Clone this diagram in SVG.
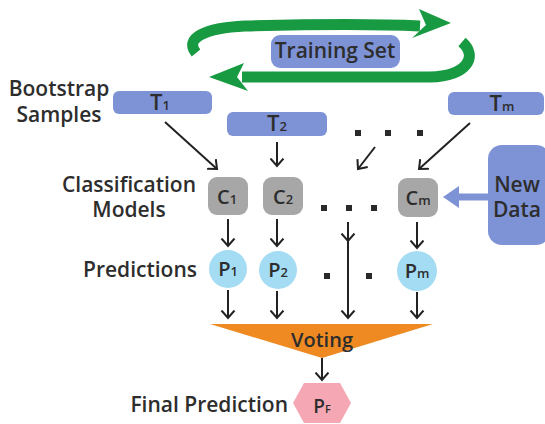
<svg xmlns="http://www.w3.org/2000/svg" width="545" height="424" viewBox="0 0 545 424">
  <defs>
    <marker id="vee" markerUnits="userSpaceOnUse" markerWidth="16" markerHeight="16" viewBox="-8 -8 16 16" refX="0" refY="0" orient="auto">
      <path d="M-7.5,-6.5 L0,0 L-7.5,6.5" fill="none" stroke="#222" stroke-width="2"/>
    </marker>
    <style>
      text { font-family: "Open Sans", "Liberation Sans", sans-serif; fill: #2d2d2d; font-weight: 600; }
      .lbl { font-size: 21px; }
      .box { fill: #7e93d6; }
      .cls { fill: #a7a7a7; }
      .pred { fill: #a4dcf4; }
      .conn { stroke: #222; stroke-width: 2; fill: none; marker-end: url(#vee); }
      .dot { fill: #2a2a2a; }
      .green { stroke: #189a42; stroke-width: 11; fill: none; }
      .sub { font-size: 13px; }
    </style>
  </defs>
  <rect width="545" height="424" fill="#ffffff"/>

  <!-- circular training-set arrows -->
  <g id="cycle">
    <path class="green" d="M196,53 C184,38 205,28 245,26 C320,24 380,24 420,26"/>
    <polygon fill="#189a42" points="451,23 419,9 426,25 412,38"/>
    <path class="green" d="M462,42 C478,56 468,76 430,77 L242,77"/>
    <polygon fill="#189a42" points="209,77 244,63 237,77 248,91"/>
  </g>

  <g id="training-set">
    <rect class="box" x="271" y="35" width="129" height="33" rx="9"/>
    <text x="335" y="58" text-anchor="middle" font-size="21">Training Set</text>
  </g>

  <!-- row labels -->
  <g id="labels">
    <text class="lbl" x="59" y="96" text-anchor="middle">Bootstrap</text>
    <text class="lbl" x="59" y="122" text-anchor="middle">Samples</text>
    <text class="lbl" x="129" y="192" text-anchor="middle">Classification</text>
    <text class="lbl" x="129" y="217" text-anchor="middle">Models</text>
    <text class="lbl" x="197" y="277" text-anchor="end">Predictions</text>
    <text class="lbl" x="288" y="412" text-anchor="end">Final Prediction</text>
  </g>

  <!-- bootstrap samples -->
  <g id="t1">
    <rect class="box" x="113" y="91" width="99" height="23" rx="6"/>
    <text x="160" y="110" text-anchor="middle" font-size="22">T<tspan class="sub">1</tspan></text>
  </g>
  <g id="t2">
    <rect class="box" x="227" y="112" width="100" height="24" rx="6"/>
    <text x="277" y="131" text-anchor="middle" font-size="22">T<tspan class="sub">2</tspan></text>
  </g>
  <g id="tm">
    <rect class="box" x="448" y="92" width="96" height="23" rx="6"/>
    <text x="502" y="111" text-anchor="middle" font-size="22">T<tspan class="sub">m</tspan></text>
  </g>
  <g id="t-dots">
    <rect class="dot" x="355" y="130" width="6" height="6"/>
    <rect class="dot" x="385" y="130" width="6" height="6"/>
    <rect class="dot" x="417" y="130" width="6" height="6"/>
  </g>

  <!-- classification models -->
  <g id="c1">
    <rect class="cls" x="208" y="177" width="40" height="38" rx="9"/>
    <text x="227" y="204" text-anchor="middle" font-size="20">C<tspan class="sub">1</tspan></text>
  </g>
  <g id="c2">
    <rect class="cls" x="263" y="177" width="40" height="38" rx="9"/>
    <text x="283" y="204" text-anchor="middle" font-size="20">C<tspan class="sub">2</tspan></text>
  </g>
  <g id="cm">
    <rect class="cls" x="398" y="178" width="40" height="39" rx="9"/>
    <text x="418" y="205" text-anchor="middle" font-size="20">C<tspan class="sub">m</tspan></text>
  </g>
  <g id="c-dots">
    <rect class="dot" x="321" y="205" width="6" height="6"/>
    <rect class="dot" x="346" y="205" width="6" height="6"/>
    <rect class="dot" x="371" y="205" width="6" height="6"/>
  </g>

  <g id="new-data">
    <rect class="box" x="488" y="145" width="62" height="100" rx="14"/>
    <text x="517" y="192" text-anchor="middle" font-size="21">New</text>
    <text x="517" y="217" text-anchor="middle" font-size="21">Data</text>
  </g>

  <!-- predictions -->
  <g id="p1">
    <circle class="pred" cx="228" cy="269" r="19"/>
    <text x="228" y="276" text-anchor="middle" font-size="20">P<tspan class="sub">1</tspan></text>
  </g>
  <g id="p2">
    <circle class="pred" cx="278" cy="270" r="19"/>
    <text x="278" y="277" text-anchor="middle" font-size="20">P<tspan class="sub">2</tspan></text>
  </g>
  <g id="pm">
    <circle class="pred" cx="417" cy="271" r="20"/>
    <text x="417" y="278" text-anchor="middle" font-size="20">P<tspan class="sub">m</tspan></text>
  </g>
  <g id="p-dots">
    <rect class="dot" x="324" y="273" width="6" height="6"/>
    <rect class="dot" x="366" y="273" width="6" height="6"/>
  </g>

  <g id="voting">
    <polygon fill="#ef8a23" points="210,324 433,324 322,358"/>
    <text x="322" y="347" text-anchor="middle" font-size="20">Voting</text>
  </g>

  <g id="final">
    <polygon fill="#f5a8b4" points="293,403 304,383 340,383 351,403 340,423 304,423"/>
    <text x="322" y="413" text-anchor="middle" font-size="19">P<tspan font-size="11">F</tspan></text>
  </g>

  <!-- connectors -->
  <g id="connectors">
    <line class="conn" x1="165" y1="122" x2="217" y2="169"/>
    <line class="conn" x1="277" y1="142" x2="277" y2="166"/>
    <line class="conn" x1="375" y1="147" x2="358" y2="169"/>
    <line class="conn" x1="470" y1="123" x2="419" y2="169"/>
    <line class="conn" x1="228" y1="219" x2="228" y2="246"/>
    <line class="conn" x1="277" y1="219" x2="277" y2="246"/>
    <line class="conn" x1="348" y1="222" x2="348" y2="241"/>
    <line x1="348" y1="240" x2="348" y2="300" stroke="#222" stroke-width="2"/>
    <line class="conn" x1="417" y1="222" x2="417" y2="248"/>
    <line class="conn" x1="228" y1="290" x2="228" y2="318"/>
    <line class="conn" x1="277" y1="291" x2="277" y2="318"/>
    <line class="conn" x1="348" y1="299" x2="348" y2="318"/>
    <line class="conn" x1="417" y1="292" x2="417" y2="318"/>
    <line class="conn" x1="322" y1="358" x2="322" y2="380"/>
    <!-- thick input arrow from new data -->
    <line x1="488" y1="197" x2="456" y2="197" stroke="#7e93d6" stroke-width="7"/>
    <polygon fill="#7e93d6" points="443,197 459,186 459,208"/>
  </g>
</svg>
